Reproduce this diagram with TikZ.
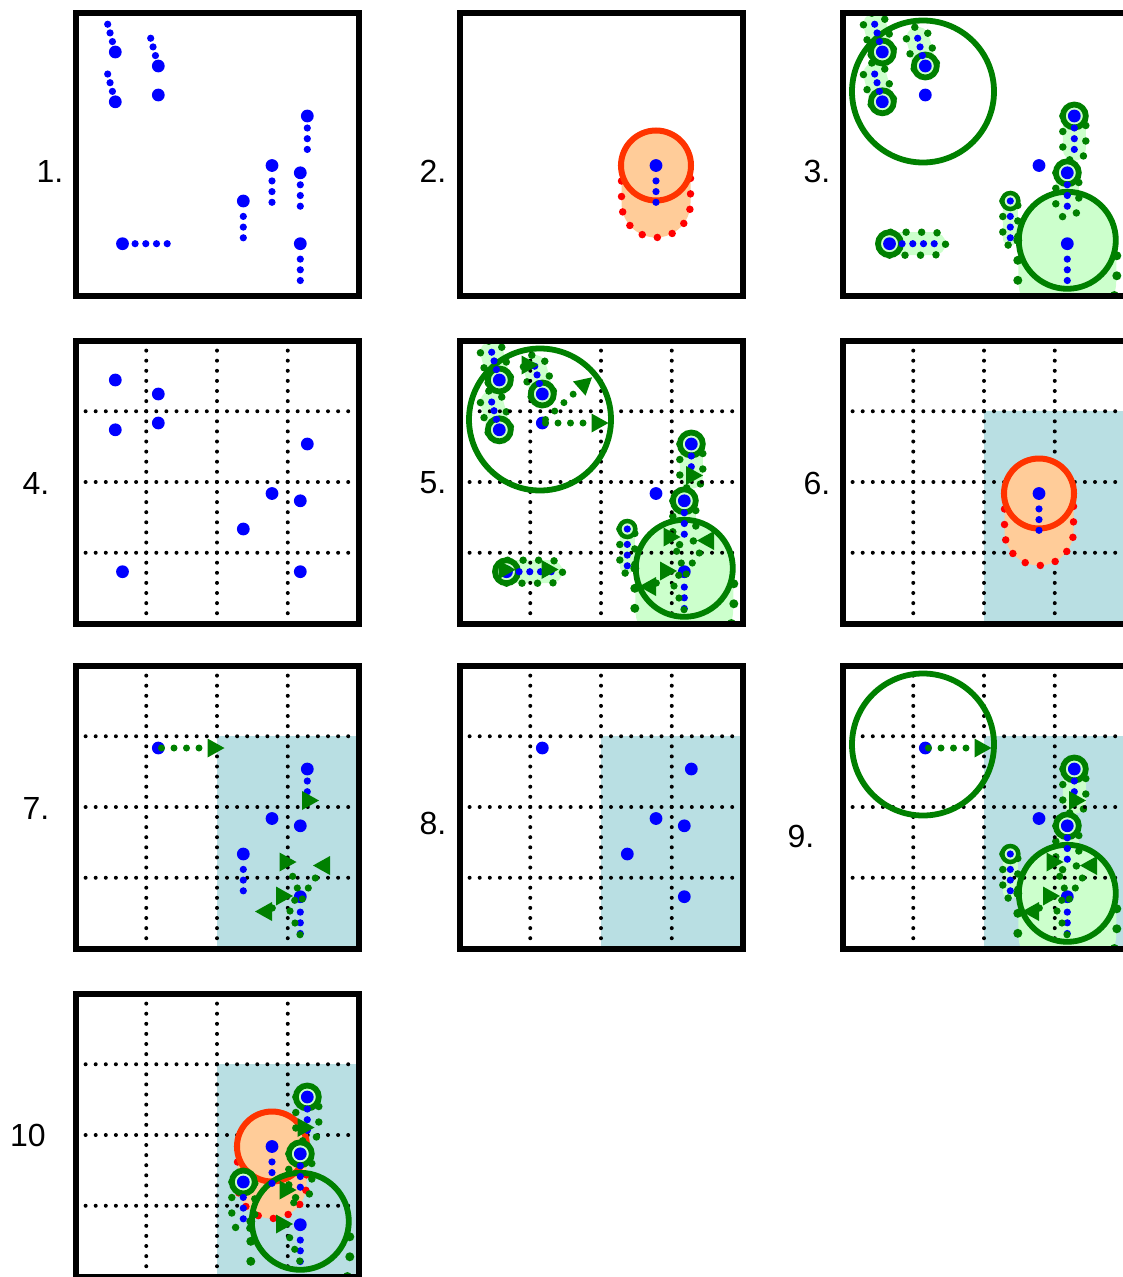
\documentclass[tikz,border=0pt]{standalone}
\usepackage{fontspec}
\setmainfont{Liberation Sans}
\usetikzlibrary{arrows.meta}

\definecolor{dotBlue}{rgb}{0,0,1}
\definecolor{boundGreen}{rgb}{0,0.5,0}
\definecolor{sweepGreen}{HTML}{CCFFCC}
\definecolor{sweepPeach}{HTML}{FFCC99}
\definecolor{hitRed}{HTML}{FF3300}
\definecolor{dotRed}{HTML}{FF0000}
\definecolor{cellBlue}{HTML}{B9DFE3}

\newcommand{\placepoints}{%
  \coordinate (p1) at (39.8,39.5);
  \coordinate (p2) at (39.8,89.3);
  \coordinate (p3) at (82.8,53.5);
  \coordinate (p4) at (82.8,82.5);
  \coordinate (p5) at (231.8,103.5);
  \coordinate (p6) at (196.5,153);
  \coordinate (p7) at (224.8,160.3);
  \coordinate (p8) at (167.8,188.5);
  \coordinate (p9) at (47,231.2);
  \coordinate (p10) at (224.8,231.2);
  \coordinate (c10) at (224.8,227.8);
  \coordinate (qc) at (80.5,79);}

\newcommand{\bluedots}[1]{\foreach \p in {#1} {\fill[dotBlue] (p\p) circle[radius=6.4];}}
\newcommand{\trail}[5]{\foreach \k [evaluate=\k as \trailoff using #3+(\k-1)*#4] in {1,...,#5}
  {\fill[dotBlue] (#1) ++(#2:\trailoff) circle[radius=3.6];}}
\newcommand{\trailof}[1]{\ifcase#1\or
  \trail{p1}{-105.35}{10.8}{9}{3}\or
  \trail{p2}{-105.35}{10.8}{9}{3}\or
  \trail{p3}{-105.35}{10.8}{9}{3}\or
  \or
  \trail{p5}{90}{12}{10.7}{3}\or
  \trail{p6}{90}{15.4}{10.7}{3}\or
  \trail{p7}{90}{12}{10.7}{3}\or
  \trail{p8}{90}{15.4}{10.7}{3}\or
  \trail{p9}{0}{12.6}{10.7}{4}\or
  \trail{p10}{90}{15.4}{10.7}{3}\fi}

\newcommand{\sweepfill}[5]{\fill[#1] (#2) ++(#3+90:#5) -- ++(#3:#4)
  arc[start angle=#3+90, delta angle=-180, radius=#5] -- ++(#3+180:#4)
  arc[start angle=#3-90, delta angle=-180, radius=#5] -- cycle;}
\newcommand{\sweepedge}[5]{\draw[#1] (#2) ++(#3+90:#5) -- ++(#3:#4)
  arc[start angle=#3+90, delta angle=-180, radius=#5] -- ++(#3+180:#4);}
\newcommand{\gsweep}[4]{\sweepfill{sweepGreen}{#1}{#2}{#3}{#4}
  \sweepedge{sweepdots,draw=boundGreen}{#1}{#2}{#3}{#4}}
\newcommand{\tiphead}[3]{\fill[boundGreen, shift={(#1,#2)}, rotate=#3]
  (0,0) -- (-17,-9.5) -- (-17,9.5) -- cycle;}

\newcommand{\panelgrid}{\foreach \g in {1,2,3}
  {\draw[griddots] (\g*70.75,0) -- (\g*70.75,283);
   \draw[griddots] (0,\g*70.75) -- (283,\g*70.75);}}
\newcommand{\cellzone}{\fill[cellBlue] (141.5,70.75) rectangle (283,283);}

\newcommand{\hitzone}{\sweepfill{sweepPeach}{p6}{90}{37.5}{34.5}
  \sweepedge{sweepdots,draw=dotRed}{p6}{90}{37.5}{34.5}
  \draw[hitRed, line width=6pt, fill=sweepPeach] (p6) circle[radius=35];}

\newcommand{\sweepscene}[1]{%
  \gsweep{p8}{90}{37}{7.5}
  \sweepfill{sweepGreen}{c10}{90}{40}{49}
  \sweepedge{bigdots,draw=boundGreen}{c10}{90}{40}{49.5}
  \foreach \p in {1,2,3} {\gsweep{p\p}{-105.35}{28.7}{11.5}}
  \gsweep{p5}{90}{33.3}{11.5}
  \gsweep{p7}{90}{33.4}{11.5}
  \gsweep{p9}{0}{44.6}{11.5}
  #1
  \draw[ring] (c10) circle[radius=48.5];
  \draw[ring] (qc) circle[radius=71];
  \foreach \p in {1,2,3,5,7,9} {\draw[ring, fill=sweepGreen] (p\p) circle[radius=11.5];}
  \draw[ring, line width=4.5pt, fill=sweepGreen] (p8) circle[radius=8];
  \bluedots{1,2,3,4,5,6,7,9,10}
  \fill[dotBlue] (p8) circle[radius=3.6];
  \foreach \i in {1,2,3,5,7,8,9,10} {\trailof{\i}}}

\newcommand{\pushright}{\draw[linkdots] (86,82.5) -- (133,82.5); \tiphead{149}{82.5}{0}}
\newcommand{\contactheads}{\tiphead{243.5}{135}{0} \tiphead{221}{196.5}{0}
  \tiphead{237.5}{200}{180} \tiphead{217.5}{230.5}{0} \tiphead{179.5}{246}{180}
  \foreach \x/\y in {217.2/210.8, 239.8/212.5, 221.8/222.5, 232.8/222.5, 219.2/234.8,
    226.8/233.5, 214.5/245.5, 196.8/242.5, 219.5/257.5, 224.5/269.2}
    {\fill[boundGreen] (\x,\y) circle[radius=3.6];}}

\begin{document}
\begin{tikzpicture}[x=1pt, y=-1pt,
    frame/.style={draw=black, line width=6pt},
    griddots/.style={draw=black, line width=4pt, line cap=round,
                     dash pattern=on 0pt off 10.1pt},
    sweepdots/.style={line width=7.5pt, line cap=round, dash pattern=on 0pt off 15.5pt},
    bigdots/.style={line width=9pt, line cap=round, dash pattern=on 0pt off 20pt},
    linkdots/.style={draw=boundGreen, line width=7pt, line cap=round,
                     dash pattern=on 0pt off 12.5pt},
    ring/.style={draw=boundGreen, line width=5.8pt},
    tag/.style={font=\fontsize{32}{38}\selectfont, inner sep=0pt}]

  \useasboundingbox (0,0) rectangle (1122,1277);

  \node[tag] (t1) at (50,171) {1.};
  \node[tag] (t2) at (433,171) {2.};
  \node[tag] (t3) at (817,171) {3.};
  \node[tag] (t4) at (36,483) {4.};
  \node[tag] (t5) at (433,483) {5.};
  \node[tag] (t6) at (817,483) {6.};
  \node[tag] (t7) at (36,808) {7.};
  \node[tag] (t8) at (433,823) {8.};
  \node[tag] (t9) at (801,836) {9.};
  \node[tag] (t10) at (28,1135) {10};

  \begin{scope}[shift={(75.5,12.5)}]
    \placepoints
    \bluedots{1,...,10}
    \foreach \i in {1,2,3,5,6,7,8,9,10} {\trailof{\i}}
    \draw[frame] (0,0) rectangle (283,283);
  \end{scope}

  \begin{scope}[shift={(459.5,12.5)}]
    \placepoints
    \hitzone
    \bluedots{6}
    \trailof{6}
    \draw[frame] (0,0) rectangle (283,283);
  \end{scope}

  \begin{scope}[shift={(842.5,12.5)}]
    \placepoints
    \begin{scope}
      \clip (0,0) rectangle (283,283);
      \sweepscene{}
    \end{scope}
    \draw[frame] (0,0) rectangle (283,283);
  \end{scope}

  \begin{scope}[shift={(75.5,340.5)}]
    \placepoints
    \panelgrid
    \bluedots{1,...,10}
    \draw[frame] (0,0) rectangle (283,283);
  \end{scope}

  \begin{scope}[shift={(459.5,340.5)}]
    \placepoints
    \begin{scope}
      \clip (0,0) rectangle (283,283);
      \sweepscene{\panelgrid}
      \pushright
      \draw[linkdots] (86,79) -- (120.5,47.4);
      \tiphead{132.5}{36.8}{41.5}
      \tiphead{79}{24.5}{0}
      \tiphead{56}{229.2}{0}
      \tiphead{99}{229}{0}
      \contactheads
    \end{scope}
    \draw[frame] (0,0) rectangle (283,283);
  \end{scope}

  \begin{scope}[shift={(842.5,340.5)}]
    \placepoints
    \begin{scope}
      \clip (0,0) rectangle (283,283);
      \cellzone
      \panelgrid
      \hitzone
      \bluedots{6}
      \trailof{6}
    \end{scope}
    \draw[frame] (0,0) rectangle (283,283);
  \end{scope}

  \begin{scope}[shift={(75.5,665.5)}]
    \placepoints
    \cellzone
    \panelgrid
    \bluedots{4,5,6,7,8,10}
    \foreach \i in {5,8,10} {\trailof{\i}}
    \pushright
    \contactheads
    \draw[frame] (0,0) rectangle (283,283);
  \end{scope}

  \begin{scope}[shift={(459.5,665.5)}]
    \placepoints
    \cellzone
    \panelgrid
    \bluedots{4,5,6,7,8,10}
    \draw[frame] (0,0) rectangle (283,283);
  \end{scope}

  \begin{scope}[shift={(842.5,665.5)}]
    \placepoints
    \begin{scope}
      \clip (0,0) rectangle (283,283);
      \cellzone
      \gsweep{p8}{90}{37}{7.5}
      \sweepfill{sweepGreen}{c10}{90}{40}{49}
      \sweepedge{bigdots,draw=boundGreen}{c10}{90}{40}{49.5}
      \gsweep{p5}{90}{33.3}{11.5}
      \gsweep{p7}{90}{33.4}{11.5}
      \panelgrid
      \draw[ring] (c10) circle[radius=48.5];
      \draw[ring] (qc) circle[radius=71];
      \foreach \p in {5,7} {\draw[ring, fill=sweepGreen] (p\p) circle[radius=11.5];}
      \draw[ring, line width=4.5pt, fill=sweepGreen] (p8) circle[radius=8];
      \bluedots{4,5,6,7,10}
      \fill[dotBlue] (p8) circle[radius=3.6];
      \foreach \i in {5,7,8,10} {\trailof{\i}}
      \pushright
      \contactheads
    \end{scope}
    \draw[frame] (0,0) rectangle (283,283);
  \end{scope}

  \begin{scope}[shift={(75.5,993.5)}]
    \placepoints
    \begin{scope}
      \clip (0,0) rectangle (283,283);
      \cellzone
      \panelgrid
      \hitzone
      \foreach \p/\l in {5/33.3,7/33.4,8/37}
        {\sweepedge{sweepdots,draw=boundGreen}{p\p}{90}{\l}{11.5}}
      \sweepedge{bigdots,draw=boundGreen}{c10}{90}{40}{49.5}
      \draw[ring] (c10) circle[radius=48.5];
      \foreach \p in {5,7,8} {\draw[ring, fill=sweepGreen] (p\p) circle[radius=11.5];}
      \bluedots{5,6,7,8,10}
      \foreach \i in {5,6,7,8,10} {\trailof{\i}}
      \tiphead{239}{134}{0}
      \tiphead{221}{196.5}{0}
      \tiphead{217.5}{230.5}{0}
      \foreach \x/\y in {218.2/209.2, 214.2/244.2, 219.2/255.8, 224.2/267.5}
        {\fill[boundGreen] (\x,\y) circle[radius=3.6];}
    \end{scope}
    \draw[frame] (0,0) rectangle (283,283);
  \end{scope}
\end{tikzpicture}
\end{document}
